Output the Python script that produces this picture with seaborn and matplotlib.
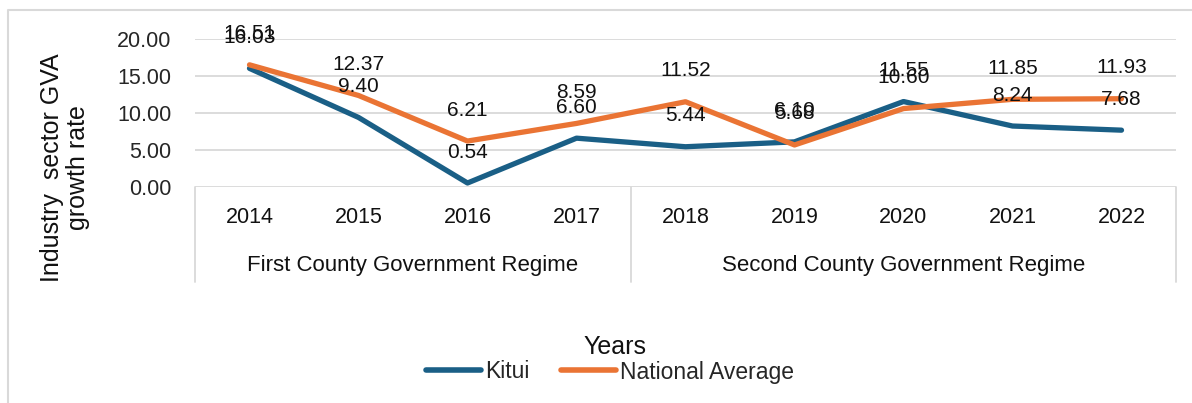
import pandas as pd
import matplotlib
matplotlib.use("Agg")
import matplotlib.pyplot as plt
import seaborn as sns
from matplotlib.lines import Line2D

years = ["2014", "2015", "2016", "2017", "2018", "2019", "2020", "2021", "2022"]
kitui = [16.03, 9.40, 0.54, 6.60, 5.44, 6.10, 11.55, 8.24, 7.68]
national = [16.51, 12.37, 6.21, 8.59, 11.52, 5.68, 10.60, 11.85, 11.93]
regimes = ["First County Government Regime", "Second County Government Regime"]
regime_spans = [(0, 3), (4, 8)]
series_names = ["Kitui", "National Average"]
colors = ["#1a5f86", "#ea7434"]

df = pd.DataFrame({
    "Year": years * 2,
    "x": list(range(len(years))) * 2,
    "rate": kitui + national,
    "series": [series_names[0]] * len(years) + [series_names[1]] * len(years),
})

sns.set_style("white")
plt.rcParams["font.family"] = ["Liberation Sans", "DejaVu Sans"]

W, H = 1192, 403
fig = plt.figure(figsize=(W / 100, H / 100), dpi=100)
left, right, top, bottom = 195, 1176, 39, 187
ax = fig.add_axes([left / W, 1 - bottom / H, (right - left) / W, (bottom - top) / H])

sns.lineplot(data=df, x="x", y="rate", hue="series", palette=colors,
             linewidth=3.8, ax=ax, legend=False, sort=False)
for ln in ax.get_lines():
    ln.set_solid_capstyle("round")
    ln.set_solid_joinstyle("round")

ax.set_xlim(-0.5, len(years) - 0.5)
ax.set_ylim(0, 20)
ax.set_yticks([0, 5, 10, 15, 20])
ax.set_yticklabels([f"{v:.2f}" for v in [0, 5, 10, 15, 20]], fontsize=15.5)
ax.tick_params(axis="y", length=0, pad=17)
ax.set_xticks([])
ax.set_xlabel("")
ax.set_ylabel("")
for s in ax.spines.values():
    s.set_visible(False)
for v in [5, 10, 15, 20]:
    ax.axhline(v, color="#d9d9d9", lw=1.3, zorder=0)
ax.axhline(0, color="#d9d9d9", lw=1.3, zorder=0)

# data labels
for vals in [kitui, national]:
    for i, v in enumerate(vals):
        ax.annotate(f"{v:.2f}", (i, v), xytext=(0, 31), textcoords="offset pixels",
                    ha="center", va="center", fontsize=15, color="#111111",
                    annotation_clip=False)

# category axis with regime grouping
trans = ax.get_xaxis_transform()
sep_bottom = -(282 - bottom) / (bottom - top)
for xv in [-0.5, 3.5, len(years) - 0.5]:
    ax.add_line(Line2D([xv, xv], [0, sep_bottom], transform=trans, color="#d9d9d9",
                       lw=1.3, clip_on=False))
for i, y in enumerate(years):
    ax.text(i, -(217 - bottom) / (bottom - top), y, transform=trans, ha="center",
            va="center", fontsize=15.5, color="#111111")
for name, (a, b) in zip(regimes, regime_spans):
    ax.text((a + b) / 2, -(265 - bottom) / (bottom - top), name, transform=trans,
            ha="center", va="center", fontsize=16, color="#111111")

fig.text(65 / W, 1 - 168 / H, "Industry  sector GVA\ngrowth rate", rotation=90,
         ha="center", va="center", multialignment="center", fontsize=18,
         linespacing=1.1, color="#111111")
fig.text(615 / W, 1 - 347 / H, "Years", ha="center", va="center", fontsize=18,
         color="#111111")

handles = [Line2D([], [], color=c, lw=4, solid_capstyle="round") for c in colors]
fig.legend(handles, series_names, loc="center", bbox_to_anchor=(610 / W, 1 - 372 / H),
           ncol=2, frameon=False, fontsize=16.5, handlelength=2.4, handletextpad=0.15,
           columnspacing=1.4)

# outer chart frame
fig.add_artist(Line2D([8 / W, 8 / W, 1], [0, 1 - 10 / H, 1 - 10 / H],
                      transform=fig.transFigure, color="#d9d9d9", lw=1.5))

fig.savefig("out.png", dpi=100)
